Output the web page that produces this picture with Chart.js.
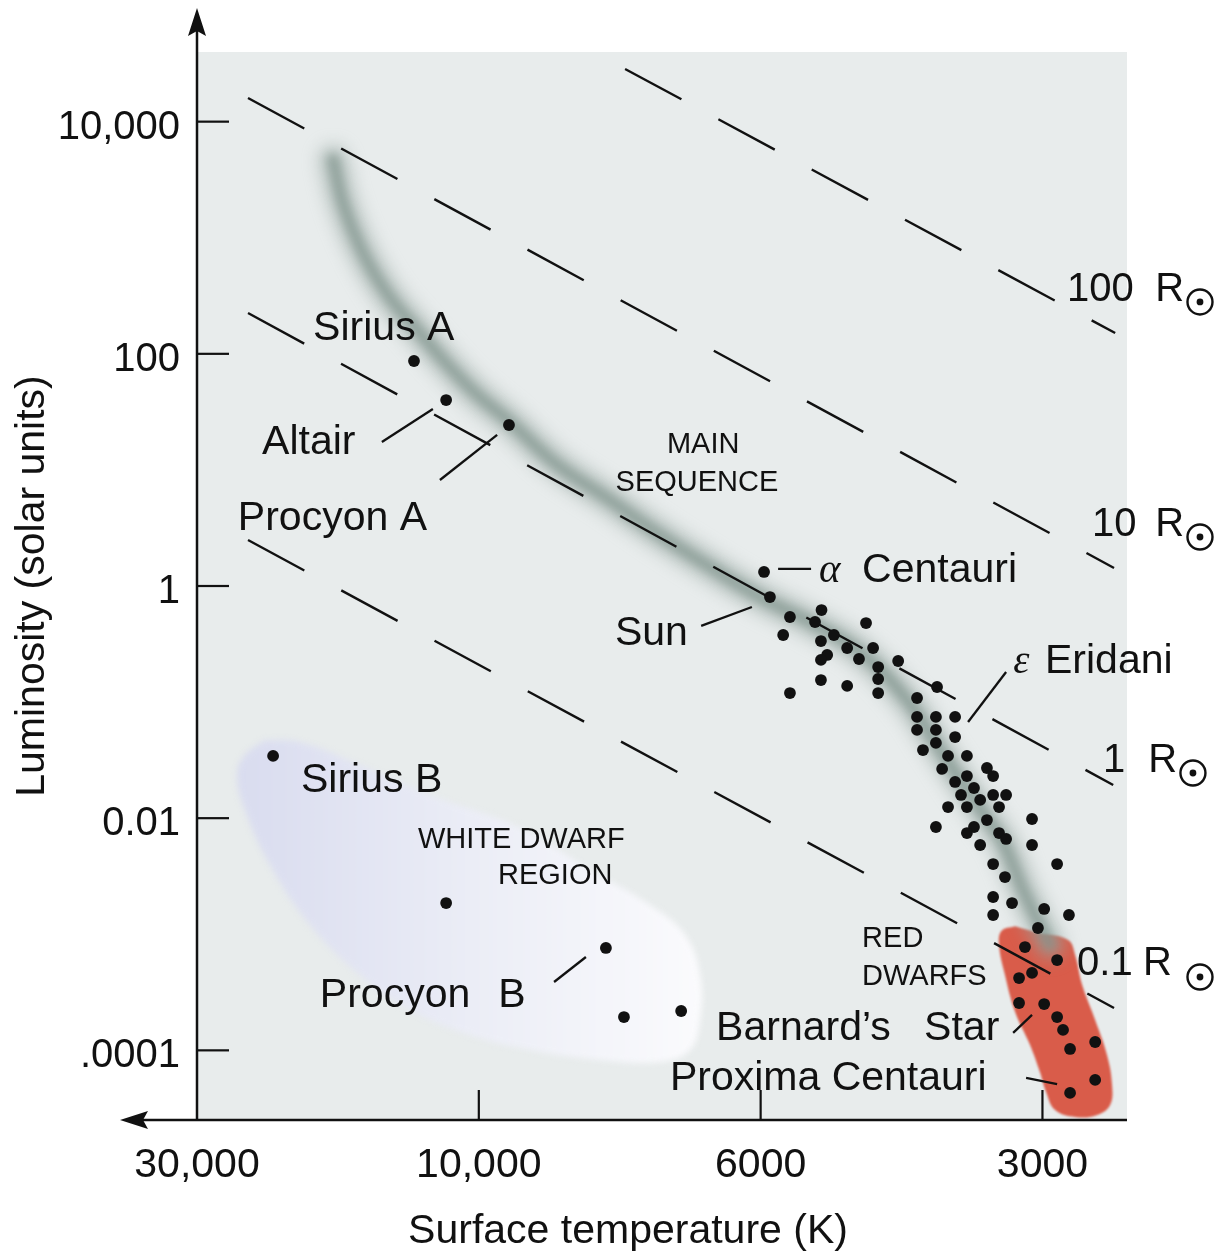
<!DOCTYPE html>
<html>
<head>
<meta charset="utf-8">
<title>Hertzsprung-Russell diagram</title>
<script src="https://cdn.jsdelivr.net/npm/chart.js@4.4.1/dist/chart.umd.min.js"></script>
<style>
  html, body { margin: 0; padding: 0; background: #fff; }
  #wrap { position: relative; width: 1222px; height: 1255px; }
</style>
</head>
<body>
<div id="wrap"><canvas id="hr"></canvas></div>
<script>
// x = position along the (schematic) temperature axis: 0 = 30,000 K, 1 = 10,000 K, 2 = 6000 K, 3 = 3000 K
// y = log10 of luminosity in solar units
const xTickPos = [0, 1, 2, 3];
const xTickLabels = ["30,000", "10,000", "6000", "3000"];
const yTickPos = [4, 2, 0, -2, -4];
const yTickLabels = ["10,000", "100", "1", "0.01", ".0001"];

// Sirius A, Altair, Procyon A, alpha Centauri, Sun
const namedStars = [[0.770, 1.938], [0.884, 1.602], [1.107, 1.387], [2.012, 0.121], [2.033, -0.095]];

const mainSeqStars = [
  [2.104, -0.267], [2.216, -0.207], [2.080, -0.422], [2.193, -0.310], [2.260, -0.422],
  [2.374, -0.319], [2.214, -0.474], [2.307, -0.534], [2.399, -0.534], [2.236, -0.594],
  [2.214, -0.637], [2.349, -0.629], [2.417, -0.698], [2.488, -0.646], [2.214, -0.810],
  [2.307, -0.861], [2.417, -0.801], [2.417, -0.922], [2.104, -0.922], [2.626, -0.870],
  [2.555, -0.965], [2.555, -1.128], [2.622, -1.128], [2.690, -1.128], [2.555, -1.240],
  [2.622, -1.240], [2.690, -1.301], [2.622, -1.352], [2.576, -1.413], [2.665, -1.464],
  [2.732, -1.464], [2.644, -1.576], [2.803, -1.568], [2.825, -1.637], [2.690, -1.688],
  [2.732, -1.637], [2.757, -1.740], [2.711, -1.800], [2.825, -1.800], [2.871, -1.800],
  [2.665, -1.904], [2.732, -1.904], [2.779, -1.843], [2.846, -1.904], [2.803, -2.016],
  [2.963, -2.007], [2.622, -2.076], [2.757, -2.076], [2.732, -2.128], [2.846, -2.128],
  [2.871, -2.179], [2.779, -2.231], [2.963, -2.231], [2.825, -2.395], [3.052, -2.395],
  [2.867, -2.507], [2.825, -2.679], [2.892, -2.731], [3.006, -2.782], [3.094, -2.834],
  [2.825, -2.834], [2.984, -2.946]
];

const redDwarfStars = [
  [2.938, -3.110], [3.052, -3.222], [2.963, -3.333], [2.917, -3.377], [2.917, -3.592],
  [3.006, -3.601], [3.052, -3.713], [3.073, -3.824], [3.187, -3.928], [3.098, -3.988],
  [3.187, -4.255], [3.098, -4.367]
];

const whiteDwarfStars = [[0.270, -1.464], [0.884, -2.731], [1.451, -3.118], [1.515, -3.713], [1.718, -3.661]];

// centre line of the main-sequence band
const mainSequenceBand = [
  [0.483, 3.670], [0.518, 3.299], [0.589, 2.869], [0.678, 2.507], [0.791, 2.179],
  [0.880, 1.930], [0.987, 1.663], [1.111, 1.413], [1.270, 1.060], [1.465, 0.741],
  [1.643, 0.439], [1.820, 0.164], [1.998, -0.095], [2.175, -0.310], [2.353, -0.568],
  [2.520, -0.982], [2.626, -1.370], [2.732, -1.757], [2.814, -2.041], [2.860, -2.205],
  [2.928, -2.601], [2.991, -2.920], [3.027, -3.092]
];

const redDwarfRegion = [
  [2.903, -2.930], [2.991, -2.990], [3.091, -3.050], [3.116, -3.178], [3.141, -3.437],
  [3.187, -3.738], [3.229, -4.040], [3.247, -4.298], [3.240, -4.471], [3.194, -4.557],
  [3.116, -4.574], [3.045, -4.514], [3.013, -4.359], [2.991, -4.186], [2.956, -3.954],
  [2.903, -3.669], [2.867, -3.351], [2.846, -3.092], [2.855, -2.970], [2.903, -2.930]
];

const whiteDwarfRegion = [
  [0.241, -1.326], [0.366, -1.344], [0.578, -1.542], [0.827, -1.800], [1.146, -2.084],
  [1.395, -2.446], [1.608, -2.748], [1.732, -3.006], [1.785, -3.351], [1.785, -3.738],
  [1.749, -3.997], [1.643, -4.100], [1.430, -4.083], [1.182, -3.997], [0.969, -3.868],
  [0.756, -3.652], [0.578, -3.351], [0.401, -2.920], [0.259, -2.403], [0.170, -1.929],
  [0.142, -1.628], [0.170, -1.456], [0.241, -1.326]
];

// lines of constant radius: 100, 10, 1 and 0.1 solar radii
const radiusLabels = ["100", "10", "1", "0.1"];
const radiusLines = [
  [[1.519, 4.454], [3.258, 2.179]],
  [[0.181, 4.204], [3.254, 0.155]],
  [[0.181, 2.352], [3.251, -1.714]],
  [[0.181, 0.396], [3.254, -3.635]]
];

// pointer lines from names to stars
const leaderLines = [
  [[0.656, 1.241], [0.837, 1.525]],   // Altair
  [[0.862, 0.913], [1.065, 1.301]],   // Procyon A
  [[2.062, 0.147], [2.179, 0.147]],   // alpha Centauri
  [[1.789, -0.344], [1.969, -0.181]], // Sun
  [[2.736, -1.171], [2.871, -0.741]], // epsilon Eridani
  [[1.267, -3.411], [1.380, -3.196]], // Procyon B
  [[2.896, -3.850], [2.963, -3.695]], // Barnard's Star
  [[2.942, -4.238], [3.052, -4.290]]  // Proxima Centauri
];

const INK = "#111";
const FONT = "'Liberation Sans', Arial, Helvetica, sans-serif";
const PLOT_BG = "#e8ecec";
const RED = "#d95c4a";

const styles = {
  star: `41px ${FONT}`,
  region: `29px ${FONT}`,
  greek: `italic 41px 'Liberation Serif', 'Times New Roman', serif`,
  radius: `40px ${FONT}`
};

// text placed at data positions (left end of the baseline unless align is given)
const annotations = [
  { text: "Sirius A", at: [0.412, 2.119], style: "star" },
  { text: "Altair", at: [0.231, 1.137], style: "star" },
  { text: "Procyon A", at: [0.145, 0.483], style: "star" },
  { text: "\u03b1", at: [2.207, 0.035], style: "greek" },
  { text: "Centauri", at: [2.360, 0.035], style: "star" },
  { text: "Sun", at: [1.483, -0.508], style: "star" },
  { text: "\u03b5", at: [2.896, -0.749], style: "greek" },
  { text: "Eridani", at: [3.009, -0.749], style: "star" },
  { text: "Sirius B", at: [0.369, -1.774], style: "star" },
  { text: "Procyon", at: [0.436, -3.626], style: "star" },
  { text: "B", at: [1.069, -3.626], style: "star" },
  { text: "Barnard\u2019s", at: [1.842, -3.911], style: "star" },
  { text: "Star", at: [2.580, -3.911], style: "star" },
  { text: "Proxima Centauri", at: [1.678, -4.341], style: "star" },
  { text: "MAIN", at: [1.796, 1.146], style: "region", align: "center" },
  { text: "SEQUENCE", at: [1.774, 0.818], style: "region", align: "center" },
  { text: "WHITE DWARF", at: [0.784, -2.257], style: "region" },
  { text: "REGION", at: [1.068, -2.567], style: "region" },
  { text: "RED", at: [2.360, -3.110], style: "region" },
  { text: "DWARFS", at: [2.360, -3.437], style: "region" }
];

// "N R(sun)" tags: number, letter R and the solar symbol
const radiusTags = [
  { num: [3.087, 2.455], r: [3.400, 2.455], sun: [3.559, 2.447] },
  { num: [3.176, 0.431], r: [3.400, 0.431], sun: [3.559, 0.422] },
  { num: [3.215, -1.602], r: [3.375, -1.602], sun: [3.534, -1.611] },
  { num: [3.123, -3.351], r: [3.357, -3.351], sun: [3.559, -3.368] }
];

const toXY = (pts) => pts.map(([x, y]) => ({ x, y }));

// blur selected datasets (band and region fills); registered globally so it runs before the filler
const softEdges = {
  id: "softEdges",
  beforeDatasetDraw(chart, args) {
    const blur = chart.data.datasets[args.index].blur;
    if (!blur) return;
    chart.ctx.save();
    chart.ctx.filter = `blur(${blur}px)`;
  },
  afterDatasetDraw(chart, args) {
    if (!chart.data.datasets[args.index].blur) return;
    chart.ctx.restore();
  }
};
const filler = Chart.registry.plugins.get("filler");
Chart.unregister(filler);
Chart.register(softEdges, filler);

// plot background, axes with arrows, inner tick marks, x title
const plotFrame = {
  id: "plotFrame",
  beforeDraw(chart) {
    const { ctx, chartArea: a } = chart;
    ctx.save();
    ctx.fillStyle = "#fff";
    ctx.fillRect(0, 0, chart.width, chart.height);
    ctx.fillStyle = PLOT_BG;
    ctx.fillRect(a.left, a.top, a.right - a.left, a.bottom - a.top);
    ctx.restore();
  },
  afterDraw(chart) {
    const { ctx, chartArea: a, scales: { x, y } } = chart;
    const seg = (x1, y1, x2, y2) => { ctx.beginPath(); ctx.moveTo(x1, y1); ctx.lineTo(x2, y2); ctx.stroke(); };
    ctx.save();
    ctx.strokeStyle = INK;
    ctx.fillStyle = INK;
    ctx.lineWidth = 2.5;
    seg(a.left, a.bottom + 1, a.left, 30);
    seg(a.right, a.bottom, 140, a.bottom);
    // arrow heads
    ctx.beginPath();
    ctx.moveTo(a.left, 8); ctx.lineTo(a.left - 9, 36); ctx.lineTo(a.left, 31); ctx.lineTo(a.left + 9, 36);
    ctx.closePath(); ctx.fill();
    ctx.beginPath();
    ctx.moveTo(120, a.bottom); ctx.lineTo(148, a.bottom - 9); ctx.lineTo(143, a.bottom); ctx.lineTo(148, a.bottom + 9);
    ctx.closePath(); ctx.fill();
    // tick marks pointing into the plot
    ctx.lineWidth = 2.2;
    y.ticks.forEach((t) => { const py = y.getPixelForValue(t.value); seg(a.left, py, a.left + 32, py); });
    x.ticks.forEach((t) => {
      if (t.value === 0) return;
      const px = x.getPixelForValue(t.value);
      seg(px, a.bottom, px, a.bottom - 30);
    });
    ctx.font = `41px ${FONT}`;
    ctx.textAlign = "center";
    ctx.textBaseline = "alphabetic";
    ctx.fillText("Surface temperature (K)", a.left + 431, 1243);
    ctx.restore();
  }
};

const annotate = {
  id: "annotate",
  afterDatasetsDraw(chart) {
    const { ctx, scales: { x, y } } = chart;
    const at = (p) => [x.getPixelForValue(p[0]), y.getPixelForValue(p[1])];
    ctx.save();
    ctx.fillStyle = INK;
    ctx.strokeStyle = INK;
    ctx.textBaseline = "alphabetic";
    annotations.forEach((a) => {
      const [px, py] = at(a.at);
      ctx.font = styles[a.style];
      ctx.textAlign = a.align || "left";
      ctx.fillText(a.text, px, py);
    });
    ctx.textAlign = "left";
    radiusTags.forEach((tag, i) => {
      ctx.font = styles.radius;
      const [nx, ny] = at(tag.num);
      ctx.fillText(radiusLabels[i], nx, ny);
      const [rx, ry] = at(tag.r);
      ctx.fillText("R", rx, ry);
      const [sx, sy] = at(tag.sun);
      ctx.lineWidth = 2.4;
      ctx.beginPath(); ctx.arc(sx, sy, 12.5, 0, Math.PI * 2); ctx.stroke();
      ctx.beginPath(); ctx.arc(sx, sy, 3.4, 0, Math.PI * 2); ctx.fill();
    });
    ctx.restore();
  }
};

const dot = {
  type: "scatter", showLine: false, pointRadius: 5.9, pointHoverRadius: 5.9,
  pointBackgroundColor: INK, pointBorderWidth: 0, order: 0
};

const datasets = [
  { ...dot, label: "Named stars", data: toXY(namedStars) },
  { ...dot, label: "Main sequence stars", data: toXY(mainSeqStars) },
  { ...dot, label: "Red dwarfs", data: toXY(redDwarfStars) },
  { ...dot, label: "White dwarfs", data: toXY(whiteDwarfStars) },
  ...leaderLines.map((s) => ({
    type: "line", data: toXY(s), borderColor: INK, borderWidth: 2.3, pointRadius: 0, order: 1
  })),
  ...radiusLines.map((s, i) => ({
    type: "line", label: radiusLabels[i] + " R", data: toXY(s), borderColor: INK, borderWidth: 2.4,
    borderDash: [64, 42], pointRadius: 0, order: 2
  })),
  {
    type: "line", label: "Main sequence core", data: toXY(mainSequenceBand), borderColor: "rgba(128,148,141,0.7)",
    borderWidth: 12, tension: 0.4, pointRadius: 0, borderCapStyle: "round", blur: 5, order: 3
  },
  {
    type: "line", label: "Main sequence glow", data: toXY(mainSequenceBand), borderColor: "rgba(152,168,162,0.55)",
    borderWidth: 30, tension: 0.4, pointRadius: 0, borderCapStyle: "round", blur: 8, order: 4
  },
  {
    type: "line", label: "Red dwarf region", data: toXY(redDwarfRegion), fill: "shape", backgroundColor: RED,
    borderWidth: 0, tension: 0.4, pointRadius: 0, blur: 1, order: 5
  },
  {
    type: "line", label: "White dwarf region", data: toXY(whiteDwarfRegion), fill: "shape",
    backgroundColor: (c) => {
      const { chart } = c;
      const { x } = chart.scales;
      if (!x || !chart.chartArea) return "#e6e8f4";
      const g = chart.ctx.createLinearGradient(x.getPixelForValue(0.15), 0, x.getPixelForValue(1.8), 0);
      g.addColorStop(0, "#d9dcef");
      g.addColorStop(0.5, "#ebedf6");
      g.addColorStop(1, "#fbfbfd");
      return g;
    },
    borderWidth: 0, tension: 0.4, pointRadius: 0, blur: 3, order: 6
  }
];

new Chart(document.getElementById("hr"), {
  type: "scatter",
  data: { datasets },
  options: {
    responsive: true,
    maintainAspectRatio: false,
    devicePixelRatio: 1,
    animation: false,
    events: [],
    layout: { padding: { top: 52, right: 95, bottom: 0, left: 0 } },
    plugins: { legend: { display: false }, tooltip: { enabled: false } },
    scales: {
      x: {
        type: "linear", min: 0, max: 3.3,
        afterFit: (s) => { s.height = 135; },
        afterBuildTicks: (s) => { s.ticks = xTickPos.map((v) => ({ value: v })); },
        grid: { display: false, drawTicks: false },
        border: { display: false },
        ticks: {
          callback: (v) => xTickLabels[xTickPos.indexOf(v)],
          font: { family: FONT, size: 41 }, color: INK, padding: 21, maxRotation: 0, autoSkip: false
        }
      },
      y: {
        type: "linear", min: -4.6, max: 4.6,
        afterFit: (s) => { s.width = 197; },
        afterBuildTicks: (s) => { s.ticks = yTickPos.map((v) => ({ value: v })); },
        grid: { display: false, drawTicks: false },
        border: { display: false },
        ticks: {
          callback: (v) => yTickLabels[yTickPos.indexOf(v)],
          font: { family: FONT, size: 40 }, color: INK, padding: 17, labelOffset: 6, autoSkip: false
        },
        title: {
          display: true, text: "Luminosity (solar units)", color: INK,
          font: { family: FONT, size: 41 }, padding: { top: 8, bottom: 0 }
        }
      }
    }
  },
  plugins: [plotFrame, annotate]
});
</script>
</body>
</html>
